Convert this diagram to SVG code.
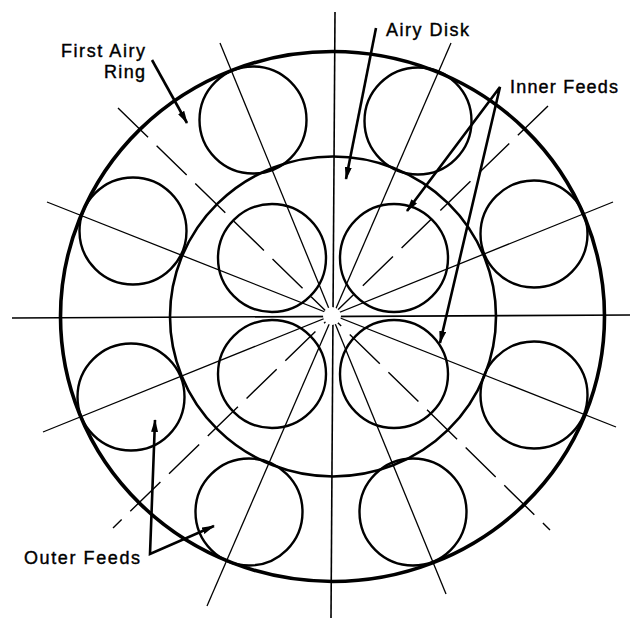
<svg xmlns="http://www.w3.org/2000/svg" width="633" height="618" viewBox="0 0 633 618">
<style>
.bg{fill:#fff}
.ring{fill:none;stroke:#000}
.feed{fill:none;stroke:#000;stroke-width:2.4}
.axis{stroke:#000;stroke-width:1.6;fill:none}
.ray{stroke:#000;stroke-width:1.3;fill:none}
.dash{stroke:#000;stroke-width:1.4;fill:none;stroke-dasharray:42 12}
.arrow{stroke:#000;stroke-width:2.6;fill:none;stroke-linejoin:miter}
.lbl{font-family:"Liberation Sans",Arial,Helvetica,sans-serif;font-size:18px;fill:#000;stroke:#000;stroke-width:0.4}
</style>
<defs>
<marker id="ah" viewBox="0 0 13 7" refX="12" refY="3.5" markerWidth="13" markerHeight="7" markerUnits="userSpaceOnUse" orient="auto-start-reverse">
<path d="M0,0 L13,3.5 L0,7 Z" fill="#000"/>
</marker>
</defs>
<rect class="bg" x="0" y="0" width="633" height="618"/>
<g id="guides">
<line class="axis" x1="12" y1="318" x2="630" y2="315"/>
<line class="axis" x1="335" y1="12" x2="331" y2="618"/>
<line class="ray" x1="220" y1="43" x2="446" y2="594"/>
<line class="ray" x1="451" y1="43" x2="207" y2="606"/>
<line class="ray" x1="47" y1="202" x2="616" y2="427"/>
<line class="ray" x1="613" y1="202" x2="43" y2="432"/>
<line class="dash" x1="118" y1="108" x2="550" y2="530"/>
<line class="dash" x1="548" y1="106" x2="113" y2="528"/>
<circle cx="332" cy="316" r="9" fill="#fff"/>
</g>
<g id="first-airy-ring">
<ellipse class="ring" cx="332.5" cy="316.5" rx="272" ry="265" stroke-width="3.6"/>
</g>
<g id="airy-disk">
<ellipse class="ring" cx="333" cy="316.5" rx="163" ry="160" stroke-width="2.6"/>
</g>
<g id="inner-feeds">
<circle class="feed" cx="272" cy="258" r="54"/>
<circle class="feed" cx="394" cy="258" r="54"/>
<circle class="feed" cx="272" cy="374" r="54"/>
<circle class="feed" cx="394" cy="374" r="54"/>
</g>
<g id="outer-feeds">
<circle class="feed" cx="253" cy="120" r="53.5"/>
<circle class="feed" cx="418" cy="121" r="53.5"/>
<circle class="feed" cx="534" cy="234" r="53.5"/>
<circle class="feed" cx="534" cy="395" r="53.5"/>
<circle class="feed" cx="413" cy="512" r="53.5"/>
<circle class="feed" cx="249" cy="512" r="53.5"/>
<circle class="feed" cx="131" cy="397" r="53.5"/>
<circle class="feed" cx="133" cy="231" r="53.5"/>
</g>
<g id="connectors">
<line class="arrow" x1="152" y1="60" x2="187" y2="123" marker-end="url(#ah)"/>
<line class="arrow" x1="376" y1="28" x2="346" y2="179" marker-end="url(#ah)"/>
<path class="arrow" d="M407,211 L500,87 L440,343" marker-start="url(#ah)" marker-end="url(#ah)"/>
<path class="arrow" d="M155,420 L150,554 L214,526" marker-start="url(#ah)" marker-end="url(#ah)"/>
</g>
<g id="labels">
<text class="lbl" x="145" y="57" text-anchor="end" textLength="84" lengthAdjust="spacing">First Airy</text>
<text class="lbl" x="145" y="78" text-anchor="end" textLength="41" lengthAdjust="spacing">Ring</text>
<text class="lbl" x="386" y="36" textLength="83" lengthAdjust="spacing">Airy Disk</text>
<text class="lbl" x="510" y="93" textLength="108" lengthAdjust="spacing">Inner Feeds</text>
<text class="lbl" x="24" y="564" textLength="116" lengthAdjust="spacing">Outer Feeds</text>
</g>
</svg>
